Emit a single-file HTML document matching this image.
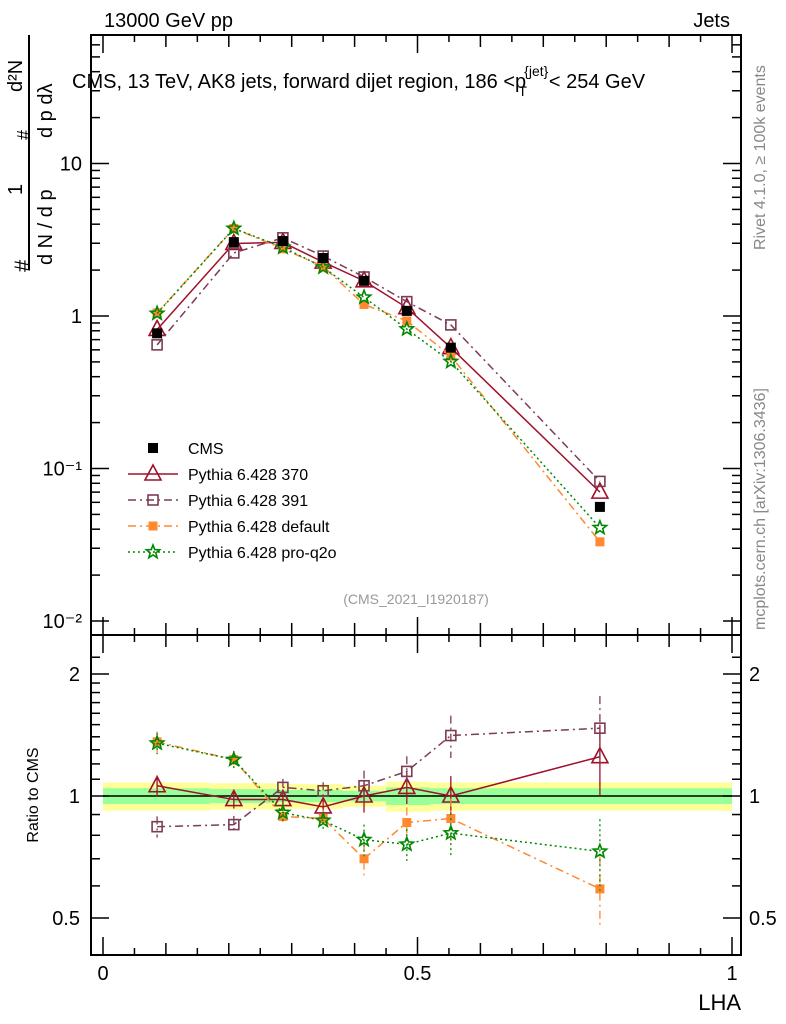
<!DOCTYPE html>
<html><head><meta charset="utf-8"><style>
body{margin:0;background:#fff;}
svg{display:block;font-family:"Liberation Sans",sans-serif;}
</style></head><body>
<svg id="c" width="786" height="1024"></svg>
<script>
const xs=[0.086,0.208,0.286,0.35,0.415,0.483,0.553,0.79];
const cmsVals=[0.77,3.05,3.1,2.4,1.7,1.08,0.62,0.056];
const r370=[1.06,0.98,0.98,0.94,1.0,1.05,1.0,1.25];
const r391=[0.84,0.85,1.05,1.03,1.06,1.15,1.41,1.47];
const rDef=[1.36,1.23,0.89,0.88,0.70,0.86,0.88,0.59];
const rPro=[1.35,1.23,0.91,0.87,0.78,0.76,0.81,0.73];
const errs=[0.06,0.05,0.05,0.05,0.09,0.09,0.12,0.2];
const bandEdges=[0,0.17,0.28,0.38,0.45,0.52,0.59,1];
const bandY=[0.08,0.075,0.07,0.06,0.085,0.08,0.08];
const bandG=[0.045,0.04,0.035,0.03,0.05,0.045,0.045];
const yTicksMain=[10,1,0.1,0.01];
const yTickLabels=["10","1","10\u207B\u00B9","10\u207B\u00B2"];

const NS="http://www.w3.org/2000/svg";
const svg=document.getElementById('c');
function el(t,a,p){const e=document.createElementNS(NS,t);for(const k in a)e.setAttribute(k,a[k]);(p||svg).appendChild(e);return e;}
const X=v=>103+629*v;
const Y=v=>316-152.5*Math.log10(v);
const R=v=>796-122*Math.log2(v);
const L=91,RR=741,T=35,M=635,B=955;

// bands
for(let i=0;i<bandY.length;i++){
 const b=el('rect',{x:X(bandEdges[i]),y:R(1+bandY[i]),width:X(bandEdges[i+1])-X(bandEdges[i]),height:R(1-bandY[i])-R(1+bandY[i]),fill:'#ffff99'});
 
 const g=el('rect',{x:X(bandEdges[i]),y:R(1+bandG[i]),width:X(bandEdges[i+1])-X(bandEdges[i]),height:R(1-bandG[i])-R(1+bandG[i]),fill:'#99ff99'});
 
}
el('line',{x1:X(0),x2:X(1),y1:R(1),y2:R(1),stroke:'#000','stroke-width':1.5});

// frames
const f1=el('rect',{x:L,y:T,width:RR-L,height:M-T,fill:'none',stroke:'#000','stroke-width':2});

const f2=el('rect',{x:L,y:M,width:RR-L,height:B-M,fill:'none',stroke:'#000','stroke-width':2});


// x ticks
for(let i=0;i<=20;i++){const v=i*0.05;const big=i%10==0;const len=big?18:(i%2==0?12:7);
 [[T,1],[M,-1],[M,1],[B,-1]].forEach(([y,d])=>el('line',{x1:X(v),x2:X(v),y1:y,y2:y+d*len,stroke:'#000','stroke-width':1.5}));}
['0','0.5','1'].forEach((t,i)=>{const e=el('text',{x:X(i*0.5),y:980,'font-size':20,'text-anchor':'middle'});e.textContent=t;
 });
const xl=el('text',{x:741,y:1010,'font-size':22,'text-anchor':'end'});xl.textContent='LHA';


// main y ticks
for(let d=-2;d<=1;d++){for(let m=1;m<=9;m++){const v=m*Math.pow(10,d);const y=Y(v);if(y<T||y>M)continue;const len=m==1?18:9;
 el('line',{x1:L,x2:L+len,y1:y,y2:y,stroke:'#000','stroke-width':1.5});el('line',{x1:RR,x2:RR-len,y1:y,y2:y,stroke:'#000','stroke-width':1.5});}}
yTicksMain.forEach((v,i)=>{const e=el('text',{x:82,y:Y(v)+7,'font-size':20,'text-anchor':'end'});e.textContent=yTickLabels[i];
 });

// ratio y ticks
[0.5,0.6,0.7,0.8,0.9,1,1.1,1.2,1.3,1.4,1.5,1.6,1.7,1.8,1.9,2,2.2].forEach(v=>{const y=R(v);if(y<M||y>B)return;const big=(v==0.5||v==1||v==2);const len=big?18:9;
 el('line',{x1:L,x2:L+len,y1:y,y2:y,stroke:'#000','stroke-width':1.5});el('line',{x1:RR,x2:RR-len,y1:y,y2:y,stroke:'#000','stroke-width':1.5});});
[[0.5,'0.5'],[1,'1'],[2,'2']].forEach(([v,t])=>{
 const a=el('text',{x:80,y:R(v)+7,'font-size':20,'text-anchor':'end'});a.textContent=t;
 const b=el('text',{x:749,y:R(v)+7,'font-size':20});b.textContent=t;});
const rl=el('text',{transform:'translate(38,795) rotate(-90)','font-size':16,'text-anchor':'middle'});rl.textContent='Ratio to CMS';


// series
const series=[
 {n:'pythia-370',r:r370,c:'#a0102a',dash:'',m:'tri'},
 {n:'pythia-391',r:r391,c:'#7a3d55',dash:'8,4,2,4',m:'sq'},
 {n:'pythia-default',r:rDef,c:'#ff8830',dash:'8,4,2,4',m:'fsq'},
 {n:'pythia-pro-q2o',r:rPro,c:'#008800',dash:'2,3',m:'star'}];
function marker(m,x,y,c,g){
 if(m=='tri')el('path',{d:`M${x},${y-9}L${x+8},${y+6}L${x-8},${y+6}Z`,fill:'none',stroke:c,'stroke-width':1.6},g);
 else if(m=='sq')el('rect',{x:x-5,y:y-5,width:10,height:10,fill:'none',stroke:c,'stroke-width':1.6},g);
 else if(m=='fsq')el('rect',{x:x-4.5,y:y-4.5,width:9,height:9,fill:c},g);
 else if(m=='star'){let p='';for(let k=0;k<10;k++){const rr=k%2?3:7;const a=-Math.PI/2+k*Math.PI/5;p+=(k?'L':'M')+(x+rr*Math.cos(a))+','+(y+rr*Math.sin(a));}el('path',{d:p+'Z',fill:'none',stroke:c,'stroke-width':1.6},g);}
 else if(m=='cms')el('rect',{x:x-5,y:y-5,width:10,height:10,fill:'#000'},g);
}
series.forEach(s=>{
 const g=el('g',{});
 const pm=xs.map((x,i)=>[X(x),Y(cmsVals[i]*s.r[i])]);
 const pr=xs.map((x,i)=>[X(x),R(s.r[i])]);
 [pm,pr].forEach(pts=>el('polyline',{points:pts.map(p=>p.join(',')).join(' '),fill:'none',stroke:s.c,'stroke-width':1.5,'stroke-dasharray':s.dash},g));
 xs.forEach((x,i)=>{const v=s.r[i],e=errs[i];
  el('line',{x1:X(x),x2:X(x),y1:R(v*(1+e)),y2:R(v*(1-e)),stroke:s.c,'stroke-width':1.3,'stroke-dasharray':s.dash},g);
  marker(s.m,pr[i][0],pr[i][1],s.c,g);marker(s.m,pm[i][0],pm[i][1],s.c,g);});
});
const cg=el('g',{});
xs.forEach((x,i)=>marker('cms',X(x),Y(cmsVals[i]),'#000',cg));

// legend
const leg=[['CMS','#000','','cms'],['Pythia 6.428 370','#a0102a','','tri'],['Pythia 6.428 391','#7a3d55','8,4,2,4','sq'],['Pythia 6.428 default','#ff8830','8,4,2,4','fsq'],['Pythia 6.428 pro-q2o','#008800','2,3','star']];
leg.forEach((l,i)=>{const y=448+i*26;const g=el('g',{});
 if(i>0)el('line',{x1:128,x2:178,y1:y,y2:y,stroke:l[1],'stroke-width':1.5,'stroke-dasharray':l[2]},g);
 marker(l[3],153,y,l[1],g);const t=el('text',{x:188,y:y+6,'font-size':16},g);t.textContent=l[0];});

// texts
function txt(s,a,name){const e=el('text',a);e.textContent=s;return e;}
txt('13000 GeV pp',{x:104,y:27,'font-size':20},'beam-label');
txt('Jets',{x:730,y:27,'font-size':20,'text-anchor':'end'},'process-label');
const tt=txt('CMS, 13 TeV, AK8 jets, forward dijet region, 186 <p',{x:72,y:88,'font-size':20},'plot-title');
const ts=el('tspan',{'font-size':14,dy:-12,dx:-2},tt);ts.textContent='{jet}';
const ts2=el('tspan',{'font-size':14,dy:20,dx:-30},tt);ts2.textContent='T';
const ts3=el('tspan',{'font-size':20,dy:-8,dx:22},tt);ts3.textContent='< 254 GeV';
txt('(CMS_2021_I1920187)',{x:416,y:604,'font-size':14,fill:'#999','text-anchor':'middle'},'analysis-id');
txt('Rivet 4.1.0, \u2265 100k events',{transform:'translate(765,250) rotate(-90)','font-size':16,fill:'#888'},'rivet-label');
txt('mcplots.cern.ch [arXiv:1306.3436]',{transform:'translate(765,630) rotate(-90)','font-size':16,fill:'#888'},'mcplots-label');
// y title
const yt=txt('#',{transform:'translate(30,272) rotate(-90)','font-size':22},'y-axis-title');
const t1=el('tspan',{dx:4},yt);t1.textContent='';
txt('d N / d p',{transform:'translate(52,265) rotate(-90)','font-size':20,'text-anchor':'start'},'y-title-denominator');
txt('1',{transform:'translate(22,195) rotate(-90)','font-size':20},'y-title-numerator');
txt('#',{transform:'translate(30,140) rotate(-90)','font-size':18},'y-title-hash');
txt('d p  d\u03bb',{transform:'translate(52,138) rotate(-90)','font-size':20},'y-title-dpt');
txt('d\u00b2N',{transform:'translate(22,92) rotate(-90)','font-size':20},'y-title-d2n');
el('line',{x1:29,x2:29,y1:35,y2:270,stroke:'#000','stroke-width':2});
el('line',{x1:24,x2:24,y1:35,y2:270,stroke:'#fff','stroke-width':0});
</script>
</body></html>
